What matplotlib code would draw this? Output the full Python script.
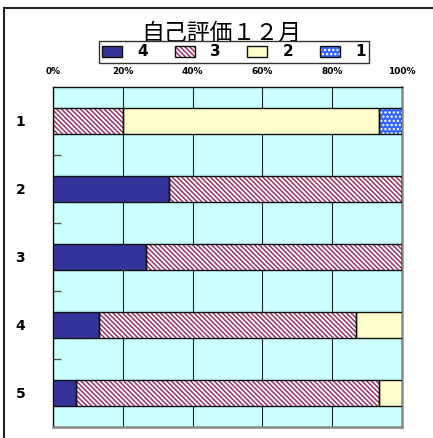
"""自己評価12月 — 100% stacked horizontal bars."""

import matplotlib
matplotlib.use("Agg")
import matplotlib.pyplot as plt
from matplotlib.lines import Line2D
from matplotlib.legend_handler import HandlerTuple
from matplotlib.patches import Patch
import numpy as np

plt.rcParams["font.family"] = ["Noto Sans CJK JP", "DejaVu Sans"]
plt.rcParams["hatch.linewidth"] = 1.1

# ── data (percent of students per rating) ─────────────────────────
items = ["1", "2", "3", "4", "5"]
rate4 = [0.0, 33.3, 26.7, 13.3, 6.7]
rate3 = [20.0, 66.7, 73.3, 73.4, 86.6]
rate2 = [73.3, 0.0, 0.0, 13.3, 6.7]
rate1 = [6.7, 0.0, 0.0, 0.0, 0.0]
series_names = ["4", "3", "2", "1"]
xticks = [0, 20, 40, 60, 80, 100]
title = "自己評価１２月"

# face, hatch, hatch colour
styles = {
    "4": ("#333399", "", "#333399"),
    "3": ("white", "\\" * 7, "#993366"),
    "2": ("#FFFFCC", "", "#FFFFCC"),
    "1": ("#3366FF", "." * 4, "white"),
}

W, H = 433, 438
fig = plt.figure(figsize=(W / 100, H / 100), dpi=100)
ax = fig.add_axes([53 / W, 1 - 427 / H, 349 / W, 340 / H])
ax.set_facecolor("#CCFFFF")

y = np.arange(len(items))
left = np.zeros(len(items))
handles = []
for name, vals in zip(series_names, [rate4, rate3, rate2, rate1]):
    face, hatch, hcol = styles[name]
    vals = np.asarray(vals)
    ax.barh(y, vals, left=left, height=0.385, color=face, hatch=hatch,
            edgecolor=hcol, linewidth=0, zorder=3)
    ax.barh(y, vals, left=left, height=0.385, fill=False,
            edgecolor="#111111", linewidth=1.0, zorder=4)
    left += vals
    handles.append((Patch(facecolor=face, hatch=hatch, edgecolor=hcol, lw=0),
                    Patch(fill=False, edgecolor="#111111", lw=1.0)))

ax.set_xlim(0, 100)
ax.set_ylim(len(items) - 0.5, -0.5)

ax.xaxis.tick_top()
ax.set_xticks(xticks)
ax.set_xticklabels([f"{v}%" for v in xticks], fontsize=6.5,
                   fontweight="bold", family="DejaVu Sans")
ax.tick_params(axis="x", length=0, pad=8)
ax.grid(axis="x", color="#222222", lw=0.8, zorder=1)
ax.set_axisbelow(True)

ax.set_yticks(y)
ax.set_yticklabels(items, fontsize=10, fontweight="bold",
                   family="DejaVu Sans")
ax.tick_params(axis="y", which="major", length=0, pad=20)
ax.set_yticks(np.arange(len(items)) + 0.5, minor=True)
ax.tick_params(axis="y", which="minor", direction="in", length=6,
               width=1.0, color="#555555")

for s in ("left", "top"):
    ax.spines[s].set_color("#111111")
    ax.spines[s].set_linewidth(1.0)
for s in ("right", "bottom"):
    ax.spines[s].set_color("#888888")
    ax.spines[s].set_linewidth(1.8)

fig.text(221 / W, 1 - 33 / H, title, fontsize=16.5, ha="center", va="center")

leg = fig.legend(handles, series_names, loc="center",
                 bbox_to_anchor=(234 / W, 1 - 52 / H), ncol=4,
                 handler_map={tuple: HandlerTuple(ndivide=1)},
                 prop={"size": 11, "weight": "bold", "family": "DejaVu Sans"},
                 handlelength=1.3, handleheight=0.7, handletextpad=1.0,
                 columnspacing=1.75, borderpad=0.25, borderaxespad=0,
                 fancybox=False, framealpha=1, edgecolor="#333333")
leg.get_frame().set_linewidth(1.0)

# outer chart border (top and left only are visible)
fig.add_artist(Line2D([4 / W, 1], [1 - 8 / H, 1 - 8 / H], color="#222222", lw=1.5))
fig.add_artist(Line2D([4 / W, 4 / W], [0, 1 - 8 / H], color="#222222", lw=1.5))

fig.savefig("out.png", dpi=100)
